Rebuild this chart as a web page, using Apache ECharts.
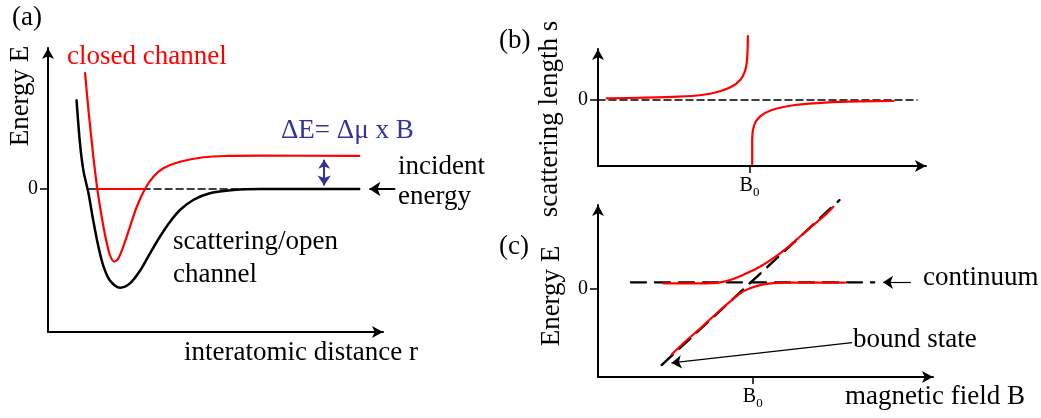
<!DOCTYPE html>
<html>
<head>
<meta charset="utf-8">
<script src="https://cdn.jsdelivr.net/npm/echarts@6/dist/echarts.min.js"></script>
<style>
  html, body { margin: 0; padding: 0; background: #fff; }
  #chart { width: 1041px; height: 418px; }
</style>
</head>
<body>
<div id="chart"></div>
<script>
// ---- (a) potential curves, [interatomic distance r, energy E] ----
const openChannel = [[0.84, 0.62], [0.94, 0.32], [1.04, 0.13], [1.19, -0.03], [1.33, -0.22], [1.48, -0.40],
  [1.63, -0.54], [1.82, -0.64], [2.12, -0.69], [2.41, -0.66], [2.71, -0.57], [3.00, -0.45], [3.29, -0.334],
  [3.59, -0.229], [3.88, -0.147], [4.27, -0.077], [4.76, -0.030], [5.45, -0.007], [6.24, 0], [9.15, 0]];
const closedChannel = [[1.09, 0.81], [1.19, 0.55], [1.29, 0.32], [1.38, 0.13], [1.45, 0], [1.53, -0.124],
  [1.63, -0.264], [1.73, -0.38], [1.82, -0.462], [1.95, -0.508], [2.07, -0.485], [2.21, -0.404],
  [2.41, -0.264], [2.61, -0.124], [2.85, 0], [3.10, 0.086], [3.39, 0.145], [3.88, 0.191], [4.57, 0.222],
  [5.26, 0.231], [6.24, 0.233], [9.15, 0.231]];
const closedBoundLevel = [[1.40, 0], [2.85, 0]];
const thresholdA = [[1.18, 0], [9.15, 0]];
const detuningArrow = [[8.12, 0.205], [8.12, 0.025]];
const incidentArrow = [[10.21, 0], [9.45, 0]];

// ---- (b) scattering length vs magnetic field, [B, s] ----
const B0 = 4.55;
const lengthBelowB0 = [[0.26, 0.026], [1.41, 0.035], [2.41, 0.05], [3.11, 0.076], [3.61, 0.126], [4.01, 0.20],
  [4.26, 0.30], [4.41, 0.43], [4.48, 0.63], [4.50, 0.97]];
const lengthAboveB0 = [[4.63, -0.974], [4.63, -0.58], [4.69, -0.379], [4.86, -0.253], [5.22, -0.152],
  [5.92, -0.076], [6.92, -0.035], [7.92, -0.02], [8.87, -0.015]];
const zeroLineB = [[0, 0], [9.58, 0]];

// ---- (c) energy levels vs magnetic field, [B, E] ----
const continuumLevel = [[0.97, 0.076], [8.12, 0.076]];
const bareBoundState = [[1.87, -0.864], [7.10, 1.01]];
const upperBranch = [[1.92, 0.065], [3.00, 0.065], [3.59, 0.076], [3.98, 0.114], [4.37, 0.178], [4.76, 0.254],
  [5.16, 0.351], [5.55, 0.465], [5.94, 0.597], [6.33, 0.727], [6.73, 0.86], [6.92, 0.935]];
const lowerBranch = [[2.17, -0.742], [2.51, -0.617], [3.00, -0.449], [3.49, -0.276], [3.88, -0.144],
  [4.18, -0.049], [4.47, 0.008], [4.86, 0.053], [5.45, 0.072], [6.43, 0.072], [7.26, 0.072]];
const continuumArrow = [[9.20, 0.076], [8.38, 0.076]];
const boundStateArrow = [[7.47, -0.61], [2.16, -0.84]];

const SERIF = 'Liberation Serif';
const RED = '#ff0000';
const BLUE = '#33339a';

const chart = echarts.init(document.getElementById('chart'), null, { renderer: 'canvas' });

function xAxisFor(gridIndex, withB0) {
  return {
    gridIndex, type: 'value', min: 0, max: 9.85,
    axisLine: { onZero: false, symbol: ['none', 'arrow'], symbolSize: [9, 11],
      lineStyle: { color: '#000', width: 2 } },
    splitLine: { show: false },
    axisTick: withB0
      ? { show: true, customValues: [B0], length: 7, lineStyle: { color: '#000', width: 1.5 } }
      : { show: false },
    axisLabel: withB0
      ? { show: true, customValues: [B0], margin: 10, formatter: () => '{b|B}{s|0}',
          rich: {
            b: { fontFamily: SERIF, fontSize: 20, color: '#000', verticalAlign: 'top', lineHeight: 22 },
            s: { fontFamily: SERIF, fontSize: 13, color: '#000', verticalAlign: 'top', lineHeight: 14,
                 padding: [10, 0, 0, 0] }
          } }
      : { show: false }
  };
}

function yAxisFor(gridIndex, min, max, labelDrop) {
  return {
    gridIndex, type: 'value', min, max,
    axisLine: { onZero: false, symbol: ['none', 'arrow'], symbolSize: [9, 11],
      lineStyle: { color: '#000', width: 2 } },
    splitLine: { show: false },
    axisTick: { show: true, customValues: [0], length: 8, lineStyle: { color: '#000', width: 1.5 } },
    axisLabel: { show: true, customValues: [0], formatter: () => '0', margin: 10,
      padding: [labelDrop || 0, 0, 0, 0],
      fontFamily: SERIF, fontSize: 20, color: '#000' }
  };
}

function curve(data, grid, color, width, dash, z) {
  return {
    type: 'line', xAxisIndex: grid, yAxisIndex: grid, data,
    showSymbol: false, symbol: 'none', smooth: dash ? false : 0.3, clip: false,
    lineStyle: { color, width, type: dash || 'solid', cap: 'round', join: 'round' }, z: z || 2, silent: true
  };
}

function arrow(coords, grid, color, width, size, both) {
  return {
    type: 'lines', coordinateSystem: 'cartesian2d', xAxisIndex: grid, yAxisIndex: grid,
    clip: false, silent: true, z: 5,
    symbol: both ? ['arrow', 'arrow'] : ['none', 'arrow'], symbolSize: size,
    lineStyle: { color, width, opacity: 1, curveness: 0 },
    data: [{ coords }]
  };
}

function txt(text, x, y, opts) {
  opts = opts || {};
  return {
    type: 'text', x, y, rotation: opts.rotate ? Math.PI / 2 : 0, silent: true, z: 10,
    style: {
      text, fill: opts.fill || '#000', font: '27px "' + SERIF + '"',
      textAlign: opts.rotate ? 'center' : (opts.align || 'left'), textVerticalAlign: 'middle'
    }
  };
}

chart.setOption({
  animation: false,
  backgroundColor: '#fff',
  grid: [
    { left: 48, top: 48, width: 335, height: 284 },
    { left: 598, top: 49, width: 328, height: 117 },
    { left: 598, top: 205, width: 335, height: 172 }
  ],
  xAxis: [xAxisFor(0, false), xAxisFor(1, true), xAxisFor(2, true)],
  yAxis: [yAxisFor(0, -1, 0.986), yAxisFor(1, -1, 0.773, 12), yAxisFor(2, -1, 0.955)],
  series: [
    // (a)
    curve(thresholdA, 0, '#000', 1.5, [7, 4], 1),
    curve(openChannel, 0, '#000', 2.5),
    curve(closedChannel, 0, RED, 2.2),
    curve(closedBoundLevel, 0, RED, 2.2, null, 3),
    arrow(detuningArrow, 0, BLUE, 2, [9, 10], true),
    arrow(incidentArrow, 0, '#000', 2, [9, 11], false),
    // (b)
    curve(zeroLineB, 1, '#000', 1.5, [7, 4], 1),
    curve(lengthBelowB0, 1, RED, 2.2),
    curve(lengthAboveB0, 1, RED, 2.2),
    // (c)
    curve(continuumLevel, 2, '#000', 2.4, [15, 9], 1),
    curve(bareBoundState, 2, '#000', 2.4, [15, 9], 1),
    curve(upperBranch, 2, RED, 2.2),
    curve(lowerBranch, 2, RED, 2.2),
    arrow(continuumArrow, 2, '#000', 1.2, [8, 10], false),
    arrow(boundStateArrow, 2, '#000', 1.2, [8, 10], false)
  ],
  graphic: [
    txt('(a)', 12, 18),
    txt('Energy E', 21, 96, { rotate: true }),
    txt('closed channel', 67, 57, { fill: RED }),
    txt('ΔE= Δμ x B', 281, 131, { fill: BLUE }),
    txt('incident', 398, 167),
    txt('energy', 398, 197),
    txt('scattering/open', 173, 242),
    txt('channel', 173, 275),
    txt('interatomic distance r', 184, 353),
    txt('(b)', 499, 41),
    txt('scattering length s', 550, 119, { rotate: true }),
    txt('(c)', 499, 247),
    txt('Energy E', 552, 296, { rotate: true }),
    txt('continuum', 923, 278),
    txt('bound state', 853, 340),
    txt('magnetic field B', 845, 397)
  ]
});
</script>
</body>
</html>
